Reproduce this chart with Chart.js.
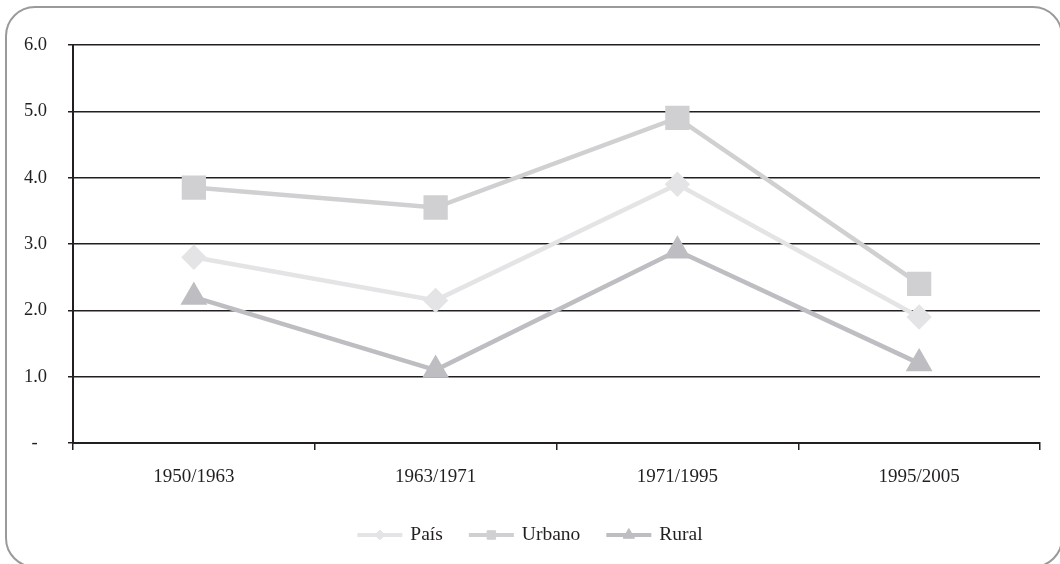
<!DOCTYPE html>
<html>
<head>
<meta charset="utf-8">
<script src="https://cdn.jsdelivr.net/npm/chart.js@4/dist/chart.umd.min.js"></script>
<style>
    html, body { margin: 0; padding: 0; background: #fff; overflow: hidden; }
    .wrap { position: relative; width: 1060px; height: 564px; overflow: hidden; }
    .frame {
        position: absolute; left: 5px; top: 6px; width: 1054px; height: 558px;
        border: 2px solid #9a9a9c; border-radius: 30px; pointer-events: none;
    }
    canvas { display: block; }
</style>
</head>
<body>
<div class="wrap">
    <canvas id="chart" width="1060" height="564"></canvas>
    <div class="frame"></div>
</div>
<script>
// Periods on the x axis
const periods = ['1950/1963', '1963/1971', '1971/1995', '1995/2005'];

// Series values
const paisValues = [2.8, 2.15, 3.9, 1.9];
const urbanoValues = [3.85, 3.55, 4.9, 2.4];
const ruralValues = [2.2, 1.1, 2.9, 1.2];

// Y tick labels
const yTickLabels = ['-', '1.0', '2.0', '3.0', '4.0', '5.0', '6.0'];

const textColor = '#231f20';
const fontFamily = '"Liberation Serif", "Times New Roman", serif';

/**
 * Legend drawn as line + marker + label, centred below the x axis
 */
const lineLegend = {
    id: 'lineLegend',
    afterDraw(chart) {
        const ctx = chart.ctx;
        const lineLen = 45;
        const textGap = 8;
        const itemGap = 26;
        const y = 535;
        ctx.save();
        ctx.font = '19.5px ' + fontFamily;
        const items = chart.data.datasets.map(ds => ({
            ds: ds,
            width: lineLen + textGap + ctx.measureText(ds.label).width
        }));
        const total = items.reduce((s, it) => s + it.width, 0) + itemGap * (items.length - 1);
        let x = chart.width / 2 - total / 2;
        items.forEach(it => {
            const ds = it.ds;
            ctx.strokeStyle = ds.borderColor;
            ctx.lineWidth = 4;
            ctx.beginPath();
            ctx.moveTo(x, y);
            ctx.lineTo(x + lineLen, y);
            ctx.stroke();
            ctx.fillStyle = ds.pointBackgroundColor;
            ctx.strokeStyle = ds.pointBackgroundColor;
            ctx.lineWidth = 1;
            Chart.helpers.drawPoint(ctx, {
                pointStyle: ds.pointStyle,
                radius: ds.legendRadius,
                rotation: 0,
                borderWidth: 1
            }, x + lineLen / 2, y);
            ctx.fillStyle = textColor;
            ctx.textAlign = 'left';
            ctx.textBaseline = 'middle';
            ctx.fillText(ds.label, x + lineLen + textGap, y);
            x += it.width + itemGap;
        });
        ctx.restore();
    }
};

const ctx = document.getElementById('chart');

new Chart(ctx, {
    type: 'line',
    data: {
        labels: periods,
        datasets: [
            {
                label: 'País',
                data: paisValues,
                borderColor: '#e4e4e6',
                pointBackgroundColor: '#e4e4e6',
                pointBorderColor: '#e4e4e6',
                pointStyle: 'rectRot',
                pointRadius: 9.5,
                legendRadius: 5,
                borderWidth: 4.5,
                order: 3
            },
            {
                label: 'Urbano',
                data: urbanoValues,
                borderColor: '#d0d0d2',
                pointBackgroundColor: '#d0d0d2',
                pointBorderColor: '#d0d0d2',
                pointStyle: 'rect',
                pointRadius: 14,
                legendRadius: 6,
                borderWidth: 4.5,
                order: 2
            },
            {
                label: 'Rural',
                data: ruralValues,
                borderColor: '#bebec2',
                pointBackgroundColor: '#bebec2',
                pointBorderColor: '#bebec2',
                pointStyle: 'triangle',
                pointRadius: 11,
                legendRadius: 6.5,
                borderWidth: 4.5,
                order: 1
            }
        ]
    },
    options: {
        responsive: false,
        animation: false,
        layout: { padding: { top: 45, right: 20, bottom: 0, left: 0 } },
        elements: {
            line: { tension: 0 },
            point: { borderWidth: 1, hoverRadius: 10 }
        },
        plugins: {
            legend: { display: false },
            tooltip: { enabled: false }
        },
        scales: {
            x: {
                offset: true,
                afterFit: scale => { scale.height = 121; },
                grid: {
                    offset: true,
                    drawOnChartArea: false,
                    drawTicks: true,
                    tickLength: 7,
                    color: textColor,
                    lineWidth: 1.5
                },
                border: { display: true, color: textColor, width: 2 },
                ticks: {
                    color: textColor,
                    padding: 16,
                    maxRotation: 0,
                    font: { family: fontFamily, size: 19 }
                }
            },
            y: {
                min: 0,
                max: 6,
                afterFit: scale => { scale.width = 73; },
                grid: {
                    color: textColor,
                    lineWidth: 1.5,
                    tickLength: 5
                },
                border: { display: true, color: textColor, width: 2 },
                ticks: {
                    stepSize: 1,
                    color: textColor,
                    padding: 21,
                    font: { family: fontFamily, size: 18.5 },
                    callback: (value, index) => index === 0 ? yTickLabels[0] + '  ' : yTickLabels[index]
                }
            }
        }
    },
    plugins: [lineLegend]
});
</script>
</body>
</html>
